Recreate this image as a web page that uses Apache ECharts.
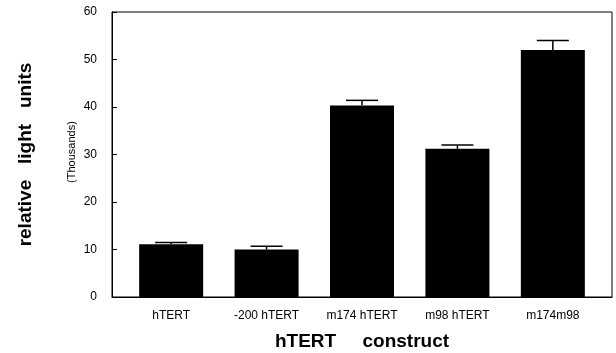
<!DOCTYPE html>
<html><head><meta charset="utf-8">
<script src="https://cdn.jsdelivr.net/npm/echarts@6/dist/echarts.min.js"></script>
<style>html,body{margin:0;padding:0;background:#fff}#c{width:616px;height:353px}</style>
</head><body><div id="c"></div>
<script>
const categories = ['hTERT', '-200 hTERT', 'm174 hTERT', 'm98 hTERT', 'm174m98'];
const values = [11.1, 10.0, 40.3, 31.2, 52.0];
const errTop = [11.5, 10.7, 41.4, 32.0, 54.0];
const yTicks = [0, 10, 20, 30, 40, 50, 60];

const FONT = '"Liberation Sans", Arial, Helvetica, sans-serif';
const chart = echarts.init(document.getElementById('c'), null, {renderer: 'canvas'});
chart.setOption({
  animation: false,
  backgroundColor: '#fff',
  textStyle: {fontFamily: FONT, color: '#000'},
  grid: {left: 112, right: 4, top: 12, bottom: 56, show: true, borderColor: '#000', borderWidth: 1,
         containLabel: false, outerBoundsMode: 'none'},
  xAxis: {
    type: 'value', min: -0.62, max: 4.62,
    name: 'hTERT     construct', nameLocation: 'middle', nameGap: 35,
    nameTextStyle: {fontFamily: FONT, fontWeight: 'bold', fontSize: 19, color: '#000'},
    axisLine: {show: true, onZero: false, lineStyle: {color: '#000', width: 1}},
    axisTick: {show: false},
    splitLine: {show: false},
    axisLabel: {
      customValues: categories.map((c, i) => i),
      formatter: v => categories[Math.round(v)] || '',
      fontFamily: FONT, fontSize: 12, color: '#000', margin: 13
    }
  },
  yAxis: {
    type: 'value', min: yTicks[0], max: yTicks[yTicks.length - 1], interval: 10,
    name: 'relative   light   units', nameLocation: 'middle', nameGap: 77, nameRotate: 90,
    nameTextStyle: {fontFamily: FONT, fontWeight: 'bold', fontSize: 19, color: '#000'},
    axisLine: {show: true, onZero: false, lineStyle: {color: '#000', width: 1}},
    axisTick: {show: true, inside: true, length: 5, lineStyle: {color: '#000'}},
    splitLine: {show: false},
    axisLabel: {fontFamily: FONT, fontSize: 12, color: '#000', margin: 15}
  },
  graphic: [{
    type: 'text', x: 72, y: 152, rotation: Math.PI / 2,
    style: {text: '(Thousands)', font: '11px ' + FONT, fill: '#000', align: 'center', verticalAlign: 'middle'}
  }],
  series: [{
    type: 'bar', barWidth: 64,
    data: values.map((v, i) => [i, v]),
    itemStyle: {color: '#000'}
  }, {
    type: 'custom',
    data: values.map((v, i) => [i, v, errTop[i]]),
    renderItem: function (params, api) {
      const base = api.coord([api.value(0), api.value(1)]);
      const top = api.coord([api.value(0), api.value(2)]);
      const hw = 16;
      return {
        type: 'group',
        children: [
          {type: 'line', shape: {x1: base[0], y1: base[1], x2: top[0], y2: top[1]}, style: {stroke: '#000', lineWidth: 1.5}},
          {type: 'line', shape: {x1: top[0] - hw, y1: top[1], x2: top[0] + hw, y2: top[1]}, style: {stroke: '#000', lineWidth: 1.5}}
        ]
      };
    },
    z: 3
  }]
});
</script></body></html>
